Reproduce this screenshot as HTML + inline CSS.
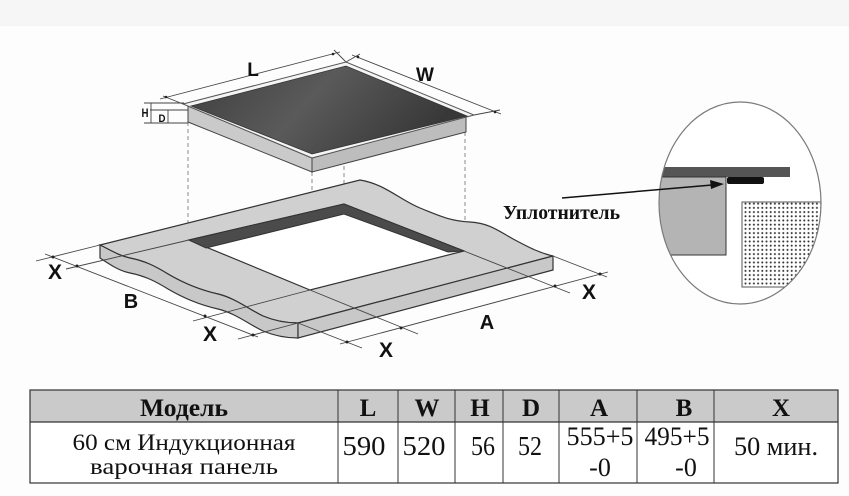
<!DOCTYPE html>
<html><head><meta charset="utf-8"><style>
html,body{margin:0;padding:0;background:#fdfdfd;}
svg{display:block;}
</style></head><body>
<svg width="849" height="496" viewBox="0 0 849 496" xmlns="http://www.w3.org/2000/svg">
<defs>
<linearGradient id="glass" x1="0" y1="0" x2="1" y2="0.3">
<stop offset="0" stop-color="#3e3e3e"/>
<stop offset="0.5" stop-color="#5a5a5a"/>
<stop offset="1" stop-color="#383838"/>
</linearGradient>
<pattern id="dots" width="4.2" height="4.2" patternUnits="userSpaceOnUse">
<rect width="4.2" height="4.2" fill="#fff"/>
<circle cx="2.1" cy="2.1" r="1" fill="#333"/>
</pattern>
<clipPath id="ell"><ellipse cx="740" cy="203" rx="81" ry="101"/></clipPath>
</defs>
<rect width="849" height="496" fill="#fdfdfd"/>
<rect width="849" height="26" fill="#f6f6f6"/>

<!-- dashed verticals -->
<g stroke="#8a8a8a" stroke-width="1" stroke-dasharray="4,3" fill="none">
<line x1="188" y1="122" x2="188" y2="240"/>
<line x1="312" y1="172" x2="312" y2="290"/>
<line x1="344" y1="166" x2="344" y2="204"/>
<line x1="465" y1="132" x2="465" y2="251"/>
</g>

<!-- countertop -->
<path d="M100,245 L360,180 C385,184 400,200 420,208 C440,216 450,221 470,222 C490,223 500,232 515,240 C530,248 540,253 553,256 L298,323 C288,323 275,321 263,316 C250,310 235,298 218,294 C200,290 185,284 168,274 C155,266 145,261 130,258 C120,256 112,251 100,245 Z" fill="#d0d0d0" stroke="#333" stroke-width="1.2"/>
<path d="M100,245 C112,251 120,256 130,258 C145,261 155,266 168,274 C185,284 200,290 218,294 C235,298 250,310 263,316 C275,321 288,323 298,323 L298,338 C288,338 275,336 263,331 C250,325 235,313 218,309 C200,305 185,299 168,289 C155,281 145,276 130,273 C120,271 112,266 100,258 Z" fill="#c8c8c8" stroke="#333" stroke-width="1.2"/>
<path d="M298,323 L553,256 L553,270 L298,338 Z" fill="#c8c8c8" stroke="#333" stroke-width="1.2"/>
<!-- hole -->
<path d="M189,240 L344,204 L464,251 L310,290 Z" fill="#fff" stroke="#333" stroke-width="1.2"/>
<path d="M189,240 L344,204 L464,251 L448,252 L344,214 L206,248 Z" fill="#4b4b4b" stroke="#333" stroke-width="1"/>

<!-- extension & dimension lines -->
<g stroke="#444" stroke-width="0.9" fill="none">
<line x1="100" y1="245" x2="36" y2="261"/>
<line x1="189" y1="240" x2="66" y2="269"/>
<line x1="310" y1="290" x2="193" y2="321"/>
<line x1="298" y1="323" x2="238" y2="339"/>
<line x1="45" y1="254" x2="258" y2="337"/>
<line x1="298" y1="323" x2="362" y2="348"/>
<line x1="310" y1="290" x2="418" y2="334"/>
<line x1="464" y1="251" x2="570" y2="293"/>
<line x1="553" y1="256" x2="607" y2="277"/>
<line x1="340" y1="344" x2="608" y2="272"/>
<!-- hob dims -->
<line x1="160" y1="99" x2="340" y2="52"/>
<line x1="183" y1="104" x2="163" y2="96"/>
<line x1="346" y1="62" x2="334" y2="50"/>
<line x1="352" y1="55" x2="501" y2="114"/>
<line x1="346" y1="62" x2="360" y2="54"/>
<line x1="474" y1="115" x2="500" y2="110"/>
<line x1="144" y1="103" x2="184" y2="103"/>
<line x1="150" y1="110" x2="188" y2="110"/>
<line x1="144" y1="123" x2="188" y2="123"/>
<line x1="151" y1="103" x2="151" y2="123"/>
<line x1="168" y1="110" x2="168" y2="123"/>
</g>
<g fill="#222">
<circle cx="53" cy="257" r="1.5"/><circle cx="77" cy="266" r="1.5"/>
<circle cx="205" cy="316" r="1.5"/><circle cx="253" cy="335" r="1.5"/>
<circle cx="347" cy="342" r="1.5"/><circle cx="401" cy="328" r="1.5"/>
<circle cx="555" cy="286" r="1.5"/><circle cx="600" cy="274" r="1.5"/>
<circle cx="166" cy="97" r="1.3"/><circle cx="333" cy="54" r="1.3"/>
<circle cx="358" cy="57" r="1.3"/><circle cx="495" cy="112" r="1.3"/>
</g>

<!-- hob -->
<path d="M188,106 L312,158 L312,172 L188,122 Z" fill="#cacaca" stroke="#444" stroke-width="1"/>
<path d="M312,158 L466,116 L466,132 L312,172 Z" fill="#bdbdbd" stroke="#444" stroke-width="1"/>
<path d="M183,104 L346,62 L474,115 L312,158 Z" fill="#f4f4f4" stroke="#555" stroke-width="1"/>
<path d="M191,106 L346,66 L467,116 L312,154 Z" fill="url(#glass)" stroke="#333" stroke-width="0.8"/>

<!-- labels on drawing -->
<g font-family="Liberation Sans, Arial, sans-serif" font-weight="bold" fill="#111" text-anchor="middle">
<text x="253" y="76" font-size="19">L</text>
<text x="425" y="81" font-size="19">W</text>
<text x="145" y="117" font-size="12" textLength="7" lengthAdjust="spacingAndGlyphs">H</text>
<text x="162" y="122" font-size="11" textLength="7" lengthAdjust="spacingAndGlyphs">D</text>
<text x="55" y="279" font-size="21">X</text>
<text x="131" y="308" font-size="20">B</text>
<text x="210" y="341" font-size="21">X</text>
<text x="386" y="357" font-size="21">X</text>
<text x="487" y="329" font-size="20">A</text>
<text x="589" y="299" font-size="21">X</text>
</g>

<!-- callout -->
<ellipse cx="740" cy="203" rx="81" ry="101" fill="#fff"/>
<g clip-path="url(#ell)">
<rect x="650" y="167" width="140" height="10" fill="#555"/>
<rect x="640" y="177" width="86" height="78" fill="#b4b4b4" stroke="#333" stroke-width="1"/>
<rect x="742" y="202" width="95" height="85" fill="url(#dots)" stroke="#555" stroke-width="1"/>
</g>
<rect x="727" y="177" width="37" height="7" rx="2" fill="#111"/>
<ellipse cx="740" cy="203" rx="81" ry="101" fill="none" stroke="#7a7a7a" stroke-width="1.2"/>
<line x1="562" y1="198" x2="712" y2="185" stroke="#111" stroke-width="1.5"/>
<path d="M724,184 L710,180 L711,189 Z" fill="#111"/>
<text x="503" y="219" font-family="Liberation Serif, serif" font-weight="bold" font-size="20" fill="#111" textLength="117" lengthAdjust="spacingAndGlyphs">Уплотнитель</text>

<!-- table -->
<rect x="30" y="390" width="808" height="32" fill="#cacaca"/>
<rect x="30" y="422" width="808" height="61" fill="#fff"/>
<rect x="30" y="390" width="808" height="93" fill="none" stroke="#333" stroke-width="1.2"/>
<line x1="30" y1="422" x2="838" y2="422" stroke="#333" stroke-width="1.2"/>
<g stroke="#333" stroke-width="1">
<line x1="338" y1="390" x2="338" y2="483"/>
<line x1="398" y1="390" x2="398" y2="483"/>
<line x1="455" y1="390" x2="455" y2="483"/>
<line x1="503" y1="390" x2="503" y2="483"/>
<line x1="559" y1="390" x2="559" y2="483"/>
<line x1="637" y1="390" x2="637" y2="483"/>
<line x1="714" y1="390" x2="714" y2="483"/>
</g>
<g font-family="Liberation Serif, 'Noto Serif CJK SC', serif" font-weight="bold" font-size="25" fill="#111" text-anchor="middle">
<text x="184" y="416" textLength="88" lengthAdjust="spacingAndGlyphs">Модель</text>
<text x="368" y="416">L</text>
<text x="427" y="416">W</text>
<text x="480" y="416">H</text>
<text x="531" y="416">D</text>
<text x="599" y="416">A</text>
<text x="684" y="416">B</text>
<text x="781" y="416">X</text>
</g>
<g font-family="Liberation Serif, 'Noto Serif CJK SC', serif" fill="#111" text-anchor="middle">
<text x="184" y="450" font-size="23" textLength="223" lengthAdjust="spacingAndGlyphs">60 см Индукционная</text>
<text x="184" y="474" font-size="23" textLength="188" lengthAdjust="spacingAndGlyphs">варочная панель</text>
<text x="364" y="455" font-size="27" textLength="43" lengthAdjust="spacingAndGlyphs">590</text>
<text x="424" y="455" font-size="27" textLength="43" lengthAdjust="spacingAndGlyphs">520</text>
<text x="483" y="455" font-size="27" textLength="24" lengthAdjust="spacingAndGlyphs">56</text>
<text x="530" y="455" font-size="27" textLength="24" lengthAdjust="spacingAndGlyphs">52</text>
<text x="600" y="445" font-size="26" textLength="67" lengthAdjust="spacingAndGlyphs">555+5</text>
<text x="600" y="476" font-size="26">-0</text>
<text x="677" y="445" font-size="26" textLength="65" lengthAdjust="spacingAndGlyphs">495+5</text>
<text x="686" y="476" font-size="26">-0</text>
<text x="776" y="455" font-size="26" textLength="84" lengthAdjust="spacingAndGlyphs">50 мин.</text>
</g>
</svg>
</body></html>
